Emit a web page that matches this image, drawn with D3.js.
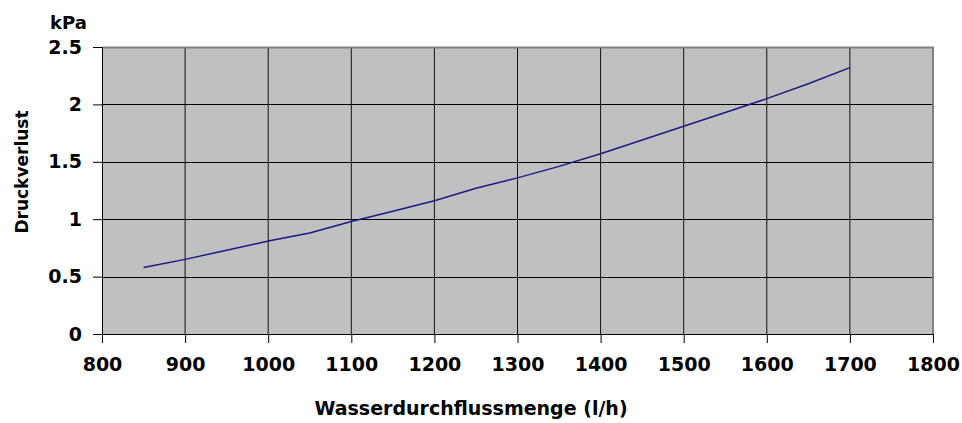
<!DOCTYPE html>
<html>
<head>
<meta charset="utf-8">
<script src="https://cdn.jsdelivr.net/npm/d3@7"></script>
<style>
  body { margin: 0; background: #fff; }
  text { font-family: "DejaVu Sans", sans-serif; font-weight: bold; fill: #000; }
</style>
</head>
<body>
<div id="my_dataviz"></div>
<script>
// data
const flow = [850, 900, 950, 1000, 1050, 1100, 1150, 1200, 1250, 1300, 1350, 1400, 1450, 1500, 1550, 1600, 1650, 1700];
const pressure = [0.58, 0.65, 0.73, 0.81, 0.88, 0.98, 1.07, 1.16, 1.27, 1.36, 1.46, 1.57, 1.69, 1.81, 1.93, 2.05, 2.18, 2.32];
const xTicks = [800, 900, 1000, 1100, 1200, 1300, 1400, 1500, 1600, 1700, 1800];
const yTicks = [0, 0.5, 1, 1.5, 2, 2.5];

const W = 962, H = 423;
const margin = {top: 47, right: 29, bottom: 89, left: 102},
    width = W - margin.left - margin.right,
    height = H - margin.top - margin.bottom;

const svg = d3.select("#my_dataviz")
  .append("svg")
    .attr("width", W)
    .attr("height", H);

const g = svg.append("g")
    .attr("transform", `translate(${margin.left},${margin.top})`);

const x = d3.scaleLinear().domain([800, 1800]).range([0, width]);
const y = d3.scaleLinear().domain([0, 2.5]).range([height, 0]);

// plot background
g.append("rect")
  .attr("width", width)
  .attr("height", height)
  .attr("fill", "#c0c0c0");

// grid
g.selectAll(".vgrid")
  .data(xTicks.slice(1, -1))
  .join("line")
    .attr("x1", d => x(d)).attr("x2", d => x(d))
    .attr("y1", 0).attr("y2", height)
    .attr("stroke", "#111")
    .attr("stroke-width", 1);

g.selectAll(".hgrid")
  .data(yTicks.slice(1, -1))
  .join("line")
    .attr("x1", 0).attr("x2", width)
    .attr("y1", d => Math.round(y(d)) + 0.5).attr("y2", d => Math.round(y(d)) + 0.5)
    .attr("stroke", "#000")
    .attr("stroke-width", 1);

// frame top / right
g.append("path")
  .attr("d", `M0,0.5H${width}V${height}`)
  .attr("fill", "none")
  .attr("stroke", "#808080")
  .attr("stroke-width", 2);

// axes
const xAxis = g.append("g")
  .attr("transform", `translate(0,${height})`)
  .call(d3.axisBottom(x).tickValues(xTicks).tickSize(9).tickPadding(15).tickFormat(d3.format("d")));
const yAxis = g.append("g")
  .call(d3.axisLeft(y).tickValues(yTicks).tickSize(9).tickPadding(11).tickFormat(d => d));

[xAxis, yAxis].forEach(a => {
  a.select(".domain").attr("stroke", "#000").attr("stroke-width", 1);
  a.selectAll(".tick line").attr("stroke", "#000");
  a.selectAll("text")
    .style("font-family", '"DejaVu Sans", sans-serif')
    .style("font-weight", "bold")
    .style("font-size", "19px")
    .attr("fill", "#000");
});

// the line
g.append("path")
  .datum(flow.map((f, i) => [f, pressure[i]]))
  .attr("fill", "none")
  .attr("stroke", "#1a1a80")
  .attr("stroke-width", 1.5)
  .attr("d", d3.line()
    .x(d => x(d[0]))
    .y(d => y(d[1])));

// axis labels
svg.append("text")
  .attr("text-anchor", "middle")
  .attr("x", 471)
  .attr("y", 415)
  .style("font-size", "19px")
  .text("Wasserdurchflussmenge (l/h)");

svg.append("text")
  .attr("text-anchor", "middle")
  .attr("transform", "translate(28,172) rotate(-90)")
  .style("font-size", "17px")
  .text("Druckverlust");

svg.append("text")
  .attr("x", 50)
  .attr("y", 29)
  .style("font-size", "18px")
  .text("kPa");
</script>
</body>
</html>
